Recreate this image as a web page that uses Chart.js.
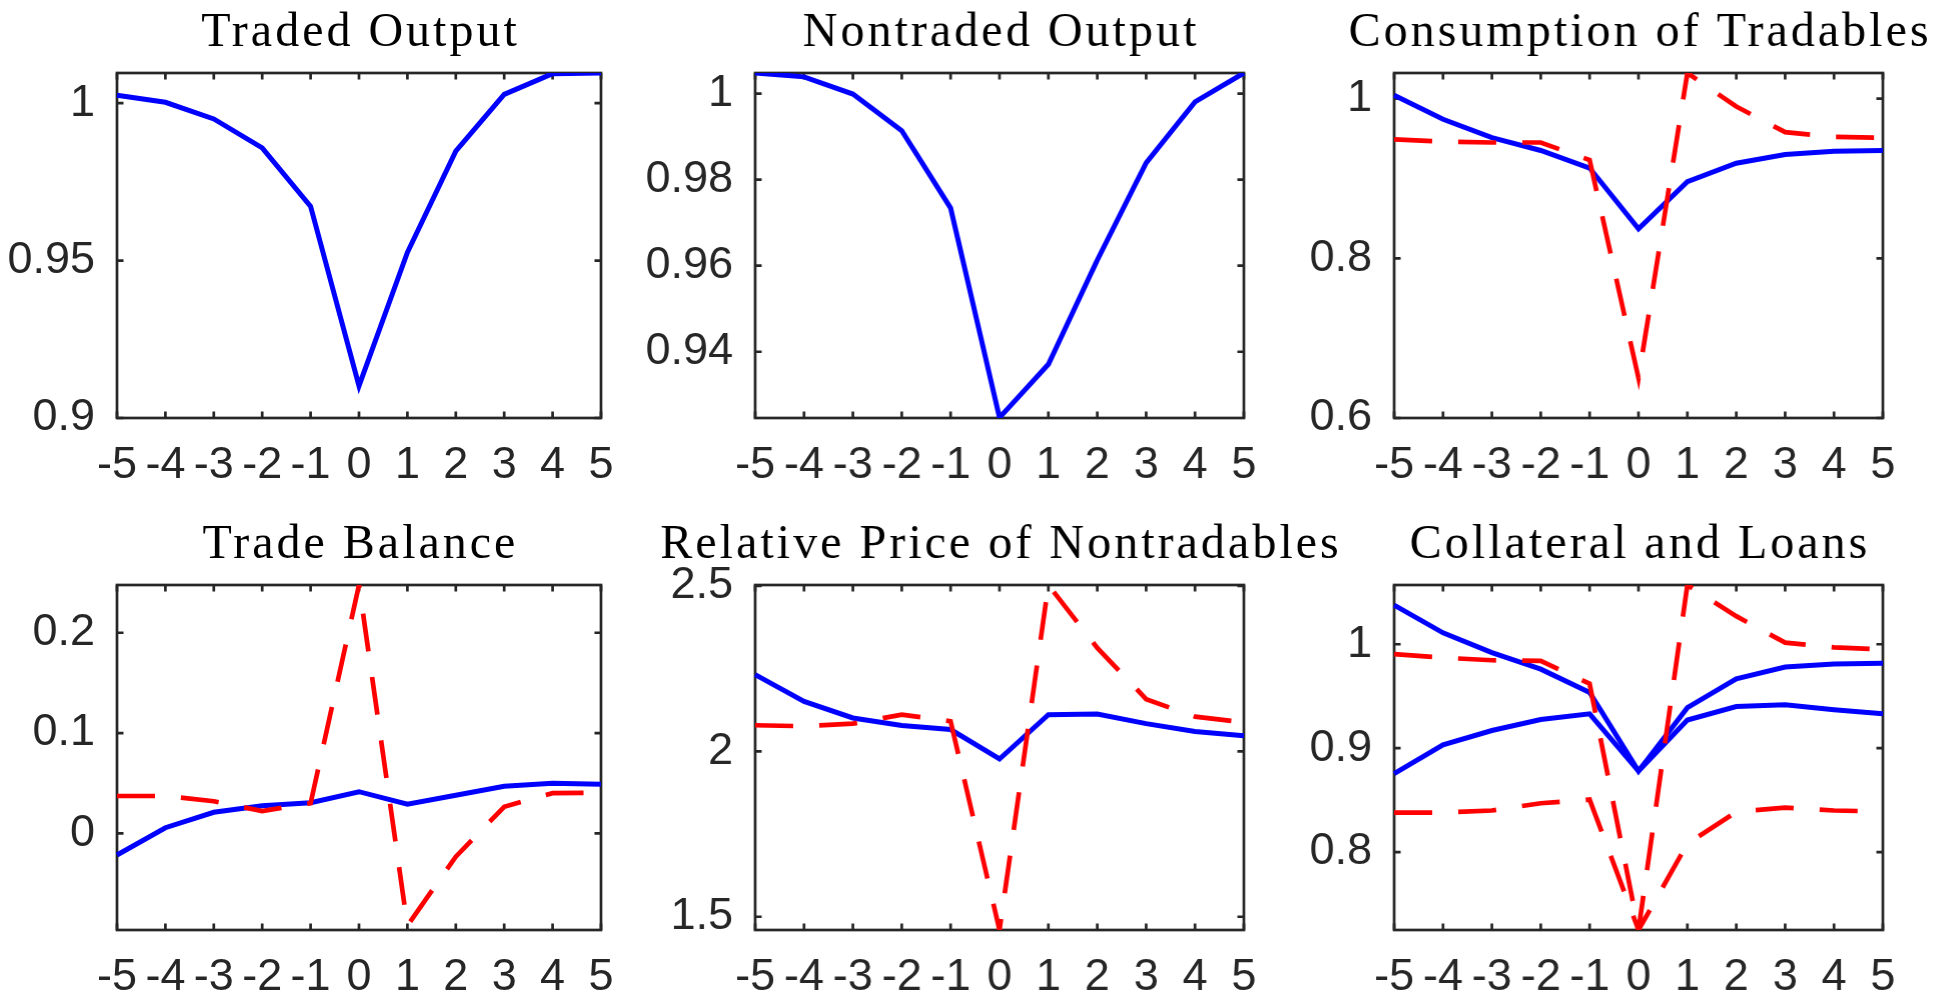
<!DOCTYPE html>
<html>
<head>
<meta charset="utf-8">
<script src="https://cdn.jsdelivr.net/npm/chart.js@4.4.1/dist/chart.umd.min.js"></script>
<style>
	html, body { margin: 0; padding: 0; background: #fff; }
	#wrap { position: relative; width: 1950px; height: 995px; overflow: hidden; background: #fff; }
	canvas { position: absolute; }
</style>
</head>
<body>
<div id="wrap"></div>
<script>
// 横軸
let xLabels = ['-5', '-4', '-3', '-2', '-1', '0', '1', '2', '3', '4', '5'];

// Traded Output
let tradedOutput = [1.0025, 1.0003, 0.995, 0.9858, 0.9672, 0.9102, 0.9526, 0.9848, 1.0028, 1.0094, 1.0096];
let tradedTicks = [0.9, 0.95, 1];

// Nontraded Output
let nontradedOutput = [1.0048, 1.0039, 0.9999, 0.9914, 0.9734, 0.9247, 0.9371, 0.9613, 0.9839, 0.9981, 1.0048];
let nontradedTicks = [0.94, 0.96, 0.98, 1];

// Consumption of Tradables
let consBlue = [1.004, 0.974, 0.951, 0.935, 0.913, 0.837, 0.896, 0.919, 0.930, 0.934, 0.935];
let consRed = [0.949, 0.946, 0.945, 0.945, 0.923, 0.65, 1.032, 0.990, 0.958, 0.952, 0.951];
let consTicks = [0.6, 0.8, 1];

// Trade Balance
let tbBlue = [-0.0216, 0.0056, 0.021, 0.0275, 0.0305, 0.0415, 0.029, 0.038, 0.047, 0.050, 0.049];
let tbRed = [0.0372, 0.0372, 0.032, 0.0222, 0.030, 0.2476, -0.092, -0.0233, 0.0265, 0.040, 0.0405];
let tbTicks = [0, 0.1, 0.2];

// Relative Price of Nontradables
let rpBlue = [2.232, 2.151, 2.101, 2.078, 2.066, 1.977, 2.111, 2.113, 2.084, 2.060, 2.047];
let rpRed = [2.079, 2.076, 2.084, 2.111, 2.091, 1.46, 2.503, 2.313, 2.158, 2.105, 2.088];
let rpTicks = [1.5, 2, 2.5];

// Collateral and Loans
let clBlue1 = [1.0377, 1.011, 0.992, 0.976, 0.9535, 0.878, 0.939, 0.9666, 0.978, 0.981, 0.9818];
let clBlue2 = [0.8754, 0.9032, 0.917, 0.9275, 0.933, 0.878, 0.927, 0.940, 0.9417, 0.937, 0.933];
let clRed1 = [0.9904, 0.987, 0.9846, 0.984, 0.962, 0.725, 1.057, 1.027, 1.0015, 0.997, 0.995];
let clRed2 = [0.838, 0.838, 0.840, 0.847, 0.8505, 0.725, 0.808, 0.8386, 0.8428, 0.840, 0.839];
let clTicks = [0.8, 0.9, 1];

const AXIS_COLOR = '#262626';
const TICK_LEN = 6.5;
const Y_W = 110, X_H = 70, PAD_T = 72, PAD_R = 120;

// 枠と内向きの目盛り、タイトル
const framePlugin = {
	id: 'frame',
	beforeDatasetsDraw(chart) {
		const a = chart.chartArea;
		const ctx = chart.ctx;
		ctx.save();
		ctx.strokeStyle = AXIS_COLOR;
		ctx.lineWidth = 2.7;
		ctx.strokeRect(a.left, a.top, a.right - a.left, a.bottom - a.top);
		ctx.beginPath();
		const xs = chart.scales.x;
		xs.ticks.forEach((t, i) => {
			const px = xs.getPixelForTick(i);
			ctx.moveTo(px, a.bottom); ctx.lineTo(px, a.bottom - TICK_LEN);
			ctx.moveTo(px, a.top); ctx.lineTo(px, a.top + TICK_LEN);
		});
		const ys = chart.scales.y;
		ys.ticks.forEach((t) => {
			const py = ys.getPixelForValue(t.value);
			ctx.moveTo(a.left, py); ctx.lineTo(a.left + TICK_LEN, py);
			ctx.moveTo(a.right, py); ctx.lineTo(a.right - TICK_LEN, py);
		});
		ctx.stroke();
		ctx.restore();
	},
	afterDraw(chart, args, opts) {
		const a = chart.chartArea;
		const ctx = chart.ctx;
		ctx.save();
		ctx.font = '48px "Liberation Serif", "DejaVu Serif", serif';
		ctx.letterSpacing = '3px';
		ctx.fillStyle = '#000';
		ctx.textAlign = 'center';
		ctx.textBaseline = 'alphabetic';
		ctx.fillText(opts.text, (a.left + a.right) / 2 + 1.5, a.top - 27.5);
		ctx.restore();
	}
};

function lineSet(data, color, dashed) {
	return {
		data: data,
		borderColor: color,
		borderWidth: dashed ? 4.7 : 5,
		borderDash: dashed ? [38, 26] : [],
		borderCapStyle: 'butt',
		borderJoinStyle: 'miter',
		pointRadius: 0,
		fill: false,
		tension: 0,
		order: dashed ? 1 : 2,
	};
}

function makePanel(box, title, datasets, yMin, yMax, yTicks) {
	const canvas = document.createElement('canvas');
	const w = (box.r - box.l) + Y_W + PAD_R;
	const h = (box.b - box.t) + PAD_T + X_H;
	canvas.width = w;
	canvas.height = h;
	canvas.style.left = (box.l - Y_W) + 'px';
	canvas.style.top = (box.t - PAD_T) + 'px';
	canvas.style.width = w + 'px';
	canvas.style.height = h + 'px';
	document.getElementById('wrap').appendChild(canvas);

	const tickFont = { family: '"Liberation Sans", Arial, sans-serif', size: 45 };
	new Chart(canvas.getContext('2d'), {
		type: 'line',
		data: { labels: xLabels, datasets: datasets },
		plugins: [framePlugin],
		options: {
			responsive: false,
			animation: false,
			devicePixelRatio: 1,
			layout: { padding: { left: 0, top: PAD_T, right: PAD_R, bottom: 0 } },
			plugins: {
				legend: { display: false },
				tooltip: { enabled: false },
				frame: { text: title },
			},
			scales: {
				x: {
					type: 'category',
					grid: { display: false },
					border: { display: false },
					ticks: { autoSkip: false, maxRotation: 0, minRotation: 0, font: tickFont, color: AXIS_COLOR, padding: 13 },
					afterFit: (s) => { s.height = X_H; },
				},
				y: {
					type: 'linear',
					min: yMin,
					max: yMax,
					grid: { display: false },
					border: { display: false },
					ticks: { font: tickFont, color: AXIS_COLOR, padding: 14, callback: (v) => String(v) },
					afterBuildTicks: (s) => { s.ticks = yTicks.map(v => ({ value: v })); },
					afterFit: (s) => { s.width = Y_W; },
				}
			}
		}
	});
}

const BLUE = '#0000ff', RED = '#ff0000';

makePanel({ l: 117, t: 72.5, r: 601, b: 418 }, 'Traded Output',
	[lineSet(tradedOutput, BLUE, false)], 0.9, 1.0096, tradedTicks);
makePanel({ l: 755, t: 72.5, r: 1243.5, b: 418 }, 'Nontraded Output',
	[lineSet(nontradedOutput, BLUE, false)], 0.9246, 1.0048, nontradedTicks);
makePanel({ l: 1394, t: 72.5, r: 1882.5, b: 418 }, 'Consumption of Tradables',
	[lineSet(consBlue, BLUE, false), lineSet(consRed, RED, true)], 0.6, 1.032, consTicks);
makePanel({ l: 117, t: 585, r: 601, b: 930 }, 'Trade Balance',
	[lineSet(tbBlue, BLUE, false), lineSet(tbRed, RED, true)], -0.0964, 0.2476, tbTicks);
makePanel({ l: 755, t: 585, r: 1243.5, b: 930 }, 'Relative Price of Nontradables',
	[lineSet(rpBlue, BLUE, false), lineSet(rpRed, RED, true)], 1.46, 2.503, rpTicks);
makePanel({ l: 1394, t: 585, r: 1882.5, b: 930 }, 'Collateral and Loans',
	[lineSet(clBlue1, BLUE, false), lineSet(clBlue2, BLUE, false), lineSet(clRed1, RED, true), lineSet(clRed2, RED, true)], 0.725, 1.057, clTicks);
</script>
</body>
</html>
